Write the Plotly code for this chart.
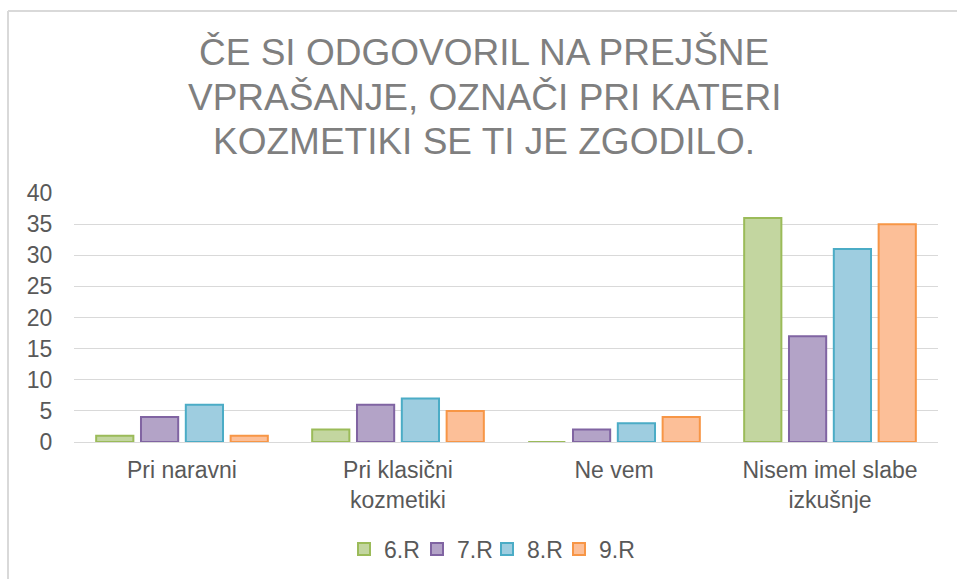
import plotly.graph_objects as go

categories = ["Pri naravni", "Pri klasični<br>kozmetiki", "Ne vem", "Nisem imel slabe<br>izkušnje"]
series_names = ["6.R", "7.R", "8.R", "9.R"]
values = {
    "6.R": [1, 2, 0, 36],
    "7.R": [4, 6, 2, 17],
    "8.R": [6, 7, 3, 31],
    "9.R": [1, 5, 4, 35],
}
title_lines = ["ČE SI ODGOVORIL NA PREJŠNE", "VPRAŠANJE, OZNAČI PRI KATERI", "KOZMETIKI SE TI JE ZGODILO."]
fills = {"6.R": "#c3d6a0", "7.R": "#b3a3c7", "8.R": "#9ecde0", "9.R": "#fcbf98"}
lines = {"6.R": "#9bbb59", "7.R": "#8064a2", "8.R": "#4bacc6", "9.R": "#f79646"}
legend_left_px = [344, 417, 487, 559]
y_ticks = [0, 5, 10, 15, 20, 25, 30, 35, 40]

legend_ids = ["legend", "legend2", "legend3", "legend4"]

fig = go.Figure()
for s, lid in zip(series_names, legend_ids):
    fig.add_trace(go.Bar(
        name=s, x=categories, y=values[s], legend=lid,
        marker=dict(color=fills[s], line=dict(color=lines[s], width=2)),
    ))

W, H = 957, 579
L, R, T, B = 74, 19, 193, 137
PW, PH = W - L - R, H - T - B

def px(x):
    return (x - L) / PW

def py(y):
    return (H - B - y) / PH

FONT = "Liberation Sans, Arial, sans-serif"

fig.update_layout(
    width=W, height=H,
    margin=dict(l=L, r=R, t=T, b=B, autoexpand=False),
    paper_bgcolor="white", plot_bgcolor="white",
    barmode="group", bargap=0.17, bargroupgap=0.17,
    font=dict(family=FONT, color="#595959", size=23),
    showlegend=True,
    xaxis=dict(showgrid=False, showline=True, linecolor="#d9d9d9", linewidth=1,
               ticks="outside", ticklen=7, tickcolor="rgba(0,0,0,0)", automargin=False,
               tickfont=dict(size=23, color="#595959")),
    yaxis=dict(range=[0, 40], tickvals=y_ticks, showgrid=True, gridcolor="#d9d9d9",
               gridwidth=1, zeroline=False, showline=False, automargin=False,
               ticks="outside", ticklen=16, tickcolor="rgba(0,0,0,0)",
               tickfont=dict(size=23, color="#595959")),
)

for lid, lx in zip(legend_ids, legend_left_px):
    fig.update_layout({lid: dict(orientation="h", x=px(lx), xanchor="left", y=py(549),
                                 yanchor="middle", font=dict(size=23, color="#595959"),
                                 itemwidth=30, itemclick=False, bgcolor="rgba(0,0,0,0)")})

for i, t in enumerate(title_lines):
    fig.add_annotation(text=t, xref="paper", yref="paper", x=px(484), y=py(52 + 45 * i),
                       xanchor="center", yanchor="middle", showarrow=False,
                       font=dict(size=37, color="#7f7f7f", family=FONT))

# chart border (top and left edges)
fig.add_shape(type="line", xref="paper", yref="paper", x0=px(8), x1=px(W),
              y0=py(11), y1=py(11), line=dict(color="#d9d9d9", width=2))
fig.add_shape(type="line", xref="paper", yref="paper", x0=px(8), x1=px(8),
              y0=py(11), y1=py(H), line=dict(color="#d9d9d9", width=2))

fig.write_html("out.html", config={"displayModeBar": False},
               post_script="document.body.style.margin='0';")
